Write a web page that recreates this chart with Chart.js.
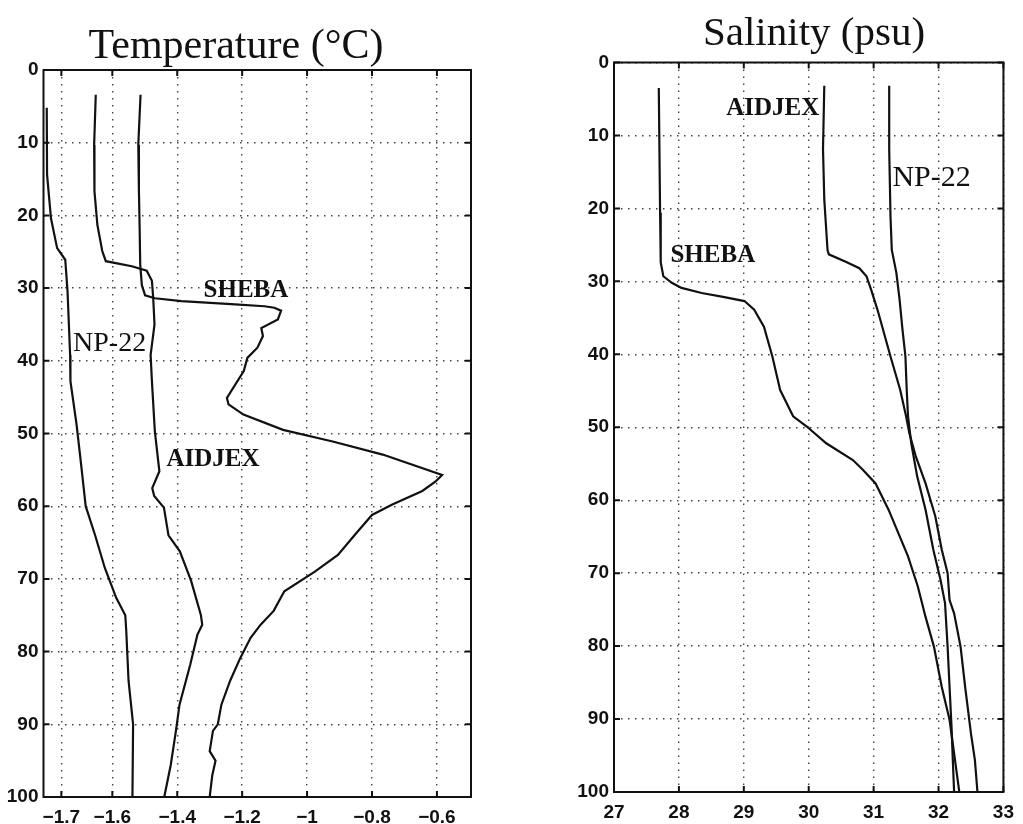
<!DOCTYPE html>
<html>
<head>
<meta charset="utf-8">
<script src="https://cdn.jsdelivr.net/npm/chart.js@4.4.0/dist/chart.umd.min.js"></script>
<style>
  body { margin: 0; background: #fff; }
  #wrap { position: relative; width: 1023px; height: 824px; }
  canvas { position: absolute; top: 0; }
  #temp_canvas { left: 0; }
  #sal_canvas { left: 520px; }
</style>
</head>
<body>
<div id="wrap">
  <canvas id="temp_canvas" width="520" height="824"></canvas>
  <canvas id="sal_canvas" width="503" height="824"></canvas>
</div>
<script>
// depth (m) and value pairs
const tempNp22Depth = [5.2, 14.4, 20.4, 24.5, 26.1, 30.4, 39.2, 42.8, 48.8, 54.3, 60, 64, 68.5, 72.6, 75, 77.2, 84, 90, 100];
const tempNp22 = [-1.802, -1.801, -1.789, -1.770, -1.745, -1.738, -1.730, -1.729, -1.710, -1.696, -1.682, -1.653, -1.623, -1.588, -1.560, -1.557, -1.550, -1.536, -1.538];

const tempAidjexDepth = [3.4, 10.3, 16.7, 21.3, 24.9, 26.3, 27.0, 27.6, 29.0, 31.4, 35, 39.2, 42.8, 49.7, 55.2, 57.5, 58.6, 60.2, 64, 66.2, 70.3, 75, 76.3, 77.7, 81.8, 87.3, 90.9, 95.6, 100];
const tempAidjex = [-1.651, -1.656, -1.655, -1.646, -1.631, -1.620, -1.540, -1.494, -1.478, -1.474, -1.470, -1.482, -1.478, -1.469, -1.455, -1.477, -1.471, -1.441, -1.427, -1.392, -1.357, -1.327, -1.323, -1.338, -1.360, -1.393, -1.404, -1.420, -1.440];

const tempShebaDepth = [3.4, 10.3, 16.7, 21.3, 26.8, 29.6, 31.0, 31.4, 31.8, 32.2, 32.5, 32.7, 33.1, 34.3, 35.5, 36.6, 38.2, 39.6, 41.4, 45.1, 46.0, 47.4, 49.5, 51.1, 52.9, 55.7, 56.6, 57.9, 59.8, 61.2, 63.9, 66.7, 69.0, 71.7, 74.4, 76.3, 78.1, 80.9, 84.0, 87.3, 90.0, 90.9, 93.7, 95.0, 97.0, 100];
const tempSheba = [-1.513, -1.520, -1.518, -1.516, -1.514, -1.509, -1.499, -1.469, -1.387, -1.234, -1.131, -1.101, -1.080, -1.090, -1.141, -1.136, -1.153, -1.184, -1.195, -1.247, -1.242, -1.196, -1.074, -0.921, -0.767, -0.584, -0.604, -0.645, -0.739, -0.800, -0.852, -0.905, -0.976, -1.070, -1.103, -1.143, -1.174, -1.206, -1.237, -1.264, -1.275, -1.290, -1.300, -1.282, -1.292, -1.300];

const salShebaDepth = [3.5, 11.9, 20.6, 27.4, 29.3, 30.2, 30.9, 31.6, 32.1, 32.7, 33.9, 36.2, 40.3, 44.9, 48.5, 49.9, 52.2, 54.5, 55.8, 57.7, 61.3, 67.7, 71.8, 76.0, 80.1, 85.6, 90.1, 94.7, 100];
const salSheba = [27.69, 27.70, 27.71, 27.72, 27.76, 27.89, 28.04, 28.35, 28.66, 29.01, 29.16, 29.31, 29.44, 29.56, 29.76, 29.97, 30.27, 30.68, 30.83, 31.03, 31.23, 31.53, 31.68, 31.80, 31.93, 32.05, 32.17, 32.24, 32.32];

const salAidjexDepth = [3.2, 11.9, 18.8, 25.7, 26.3, 27.3, 28.2, 29.3, 31.1, 33.9, 40.3, 44.9, 48.5, 50.8, 54.0, 57.7, 62.2, 66.8, 70.0, 73.7, 75.5, 80.1, 85.6, 92.0, 95.6, 100];
const salAidjex = [30.24, 30.22, 30.24, 30.29, 30.31, 30.57, 30.78, 30.89, 30.96, 31.06, 31.26, 31.41, 31.50, 31.55, 31.65, 31.80, 31.95, 32.05, 32.14, 32.17, 32.24, 32.34, 32.41, 32.50, 32.56, 32.60];

const salNp22Depth = [3.2, 11.9, 21.1, 25.7, 28.8, 32.5, 36.2, 40.3, 44.9, 48.5, 52.2, 56.7, 61.3, 66.8, 70.9, 74.1, 80.1, 85.6, 91.0, 95.6, 100];
const salNp22 = [31.24, 31.24, 31.26, 31.28, 31.35, 31.40, 31.44, 31.49, 31.51, 31.53, 31.58, 31.67, 31.80, 31.92, 32.03, 32.10, 32.14, 32.17, 32.20, 32.22, 32.24];

const depthTicks = [0, 10, 20, 30, 40, 50, 60, 70, 80, 90, 100];
const tempTickValues = [-1.757, -1.6, -1.4, -1.2, -1, -0.8, -0.6];
const tempTickLabels = ['\u22121.7', '\u22121.6', '\u22121.4', '\u22121.2', '\u22121', '\u22120.8', '\u22120.6'];
const salTickValues = [27, 28, 29, 30, 31, 32, 33];
const salTickLabels = ['27', '28', '29', '30', '31', '32', '33'];

// curve labels: [text, x value, depth, bold, size]
const tempLabels = [
	['SHEBA', -1.319, 30.3, true, 25],
	['NP-22', -1.721, 37.6, false, 28],
	['AIDJEX', -1.433, 53.6, true, 25],
];
const salLabels = [
	['AIDJEX', 28.73, 6.3, true, 25],
	['NP-22', 31.29, 15.8, false, 30],
	['SHEBA', 27.87, 26.5, true, 25],
];

const toPoints = (depth, vals) => depth.map((d, i) => ({ x: vals[i], y: d }));

const framePlugin = {
	id: 'frame',
	afterDraw(chart) {
		const { ctx, chartArea: a, scales } = chart;
		ctx.save();
		ctx.strokeStyle = '#111';
		ctx.lineWidth = 2;
		ctx.strokeRect(a.left, a.top, a.right - a.left, a.bottom - a.top);
		const len = 6;
		ctx.beginPath();
		scales.x.ticks.forEach(t => {
			const px = scales.x.getPixelForValue(t.value);
			ctx.moveTo(px, a.bottom); ctx.lineTo(px, a.bottom - len);
			ctx.moveTo(px, a.top); ctx.lineTo(px, a.top + len);
		});
		scales.y.ticks.forEach(t => {
			const py = scales.y.getPixelForValue(t.value);
			ctx.moveTo(a.left, py); ctx.lineTo(a.left + len, py);
			ctx.moveTo(a.right, py); ctx.lineTo(a.right - len, py);
		});
		ctx.stroke();
		ctx.restore();
	}
};

function makeTextPlugin(title, titleX, titleY, titleSize, labels) {
	return {
		id: 'texts',
		afterDraw(chart) {
			const { ctx, scales } = chart;
			ctx.save();
			ctx.fillStyle = '#111';
			ctx.textAlign = 'center';
			ctx.textBaseline = 'middle';
			ctx.font = `${titleSize}px "Liberation Serif", "Times New Roman", serif`;
			ctx.fillText(title, titleX, titleY);
			ctx.textAlign = 'left';
			labels.forEach(([text, xv, yv, bold, size]) => {
				ctx.font = `${bold ? 'bold ' : ''}${size}px "Liberation Serif", "Times New Roman", serif`;
				ctx.fillText(text, scales.x.getPixelForValue(xv), scales.y.getPixelForValue(yv));
			});
			ctx.restore();
		}
	};
}

const tickFont = { family: 'Liberation Sans', size: 19, weight: 'bold' };
const gridOpts = { color: '#444', lineWidth: 1.4, drawTicks: false };
const borderOpts = { display: false, dash: [1.5, 5.5] };

function lineSet(points) {
	return {
		data: points,
		showLine: true,
		borderColor: '#111',
		borderWidth: 2.2,
		pointRadius: 0,
		fill: false,
		tension: 0,
	};
}

function makeChart(canvas, opts) {
	return new Chart(canvas, {
		type: 'scatter',
		data: { datasets: opts.series.map(lineSet) },
		options: {
			responsive: false,
			animation: false,
			layout: { padding: opts.padding },
			plugins: { legend: { display: false }, tooltip: { enabled: false } },
			scales: {
				x: {
					type: 'linear',
					min: opts.xMin,
					max: opts.xMax,
					afterBuildTicks: s => { s.ticks = opts.xTicks.map(v => ({ value: v })); },
					afterFit: s => { s.height = opts.xHeight; },
					ticks: {
						font: tickFont,
						color: '#111',
						padding: 9,
						maxRotation: 0,
						autoSkip: false,
						callback: (v, i) => opts.xLabels[i],
					},
					grid: gridOpts,
					border: borderOpts,
				},
				y: {
					type: 'linear',
					reverse: true,
					min: 0,
					max: 100,
					afterBuildTicks: s => { s.ticks = depthTicks.map(v => ({ value: v })); },
					afterFit: s => { s.width = opts.yWidth; },
					ticks: { font: tickFont, color: '#111', padding: 5, autoSkip: false },
					grid: gridOpts,
					border: borderOpts,
				}
			}
		},
		plugins: [framePlugin, opts.text],
	});
}

makeChart(document.getElementById('temp_canvas'), {
	series: [
		toPoints(tempNp22Depth, tempNp22),
		toPoints(tempAidjexDepth, tempAidjex),
		toPoints(tempShebaDepth, tempSheba),
	],
	xMin: -1.812, xMax: -0.495,
	xTicks: tempTickValues, xLabels: tempTickLabels,
	padding: { top: 70, right: 49, bottom: 0, left: 0 },
	yWidth: 43.5, xHeight: 27,
	text: makeTextPlugin('Temperature (\u00B0C)', 236, 47, 42, tempLabels),
});

makeChart(document.getElementById('sal_canvas'), {
	series: [
		toPoints(salShebaDepth, salSheba),
		toPoints(salAidjexDepth, salAidjex),
		toPoints(salNp22Depth, salNp22),
	],
	xMin: 27, xMax: 33,
	xTicks: salTickValues, xLabels: salTickLabels,
	padding: { top: 62.5, right: 19.5, bottom: 0, left: 0 },
	yWidth: 94, xHeight: 32,
	text: makeTextPlugin('Salinity (psu)', 294, 34, 41, salLabels),
});
</script>
</body>
</html>
